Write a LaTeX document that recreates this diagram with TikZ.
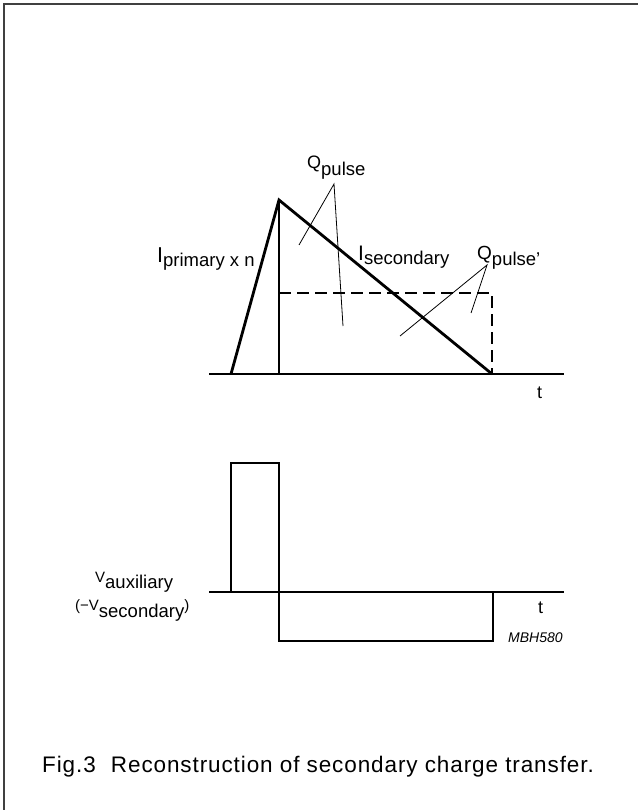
\documentclass[tikz,border=0pt]{standalone}
\usepackage{fontspec}
\setmainfont{Liberation Sans}
\usepackage{tikz}

\newcommand{\subfont}{\fontsize{18.5}{20}\selectfont}
\newcommand{\withsub}[3]{#1\raisebox{#3}{\subfont #2}}

\begin{document}
\begin{tikzpicture}[x=1pt, y=-1pt,
  frame/.style={line width=1.6pt, draw=black!75},
  axisline/.style={line width=1.3pt},
  wave/.style={line width=2.8pt, line join=miter},
  pointer/.style={line width=0.8pt},
  level/.style={line width=1.3pt, dash pattern=on 12pt off 6pt},
  lbl/.style={inner sep=0pt, anchor=base west, font=\fontsize{18}{20}\selectfont}]
\useasboundingbox (0,0) rectangle (638,810);
\draw[frame] (4,810) -- (4,4) -- (638,4);

% current waveforms
\coordinate (t0) at (209,374);
\coordinate (t1) at (564,374);
\coordinate (rise) at (231,374);
\coordinate (peak) at (279,200);
\coordinate (foot) at (279,374);
\coordinate (fall) at (492,374);
\coordinate (lvl0) at (279,293);
\coordinate (lvl1) at (492,293);
\draw[axisline] (t0) -- (t1);
\draw[level] (lvl0) -- (lvl1) -- (fall);
\draw[wave] (rise) -- (peak) -- (fall);
\draw[wave] (peak) -- (foot);

\node[lbl] (qpulse) at (307,169) {\withsub{Q}{pulse}{-7pt}};
\node[lbl, font=\fontsize{21.5}{24}\selectfont] (iprim) at (157,262) {\withsub{I}{primary x n}{-4pt}};
\node[lbl, font=\fontsize{21}{24}\selectfont] (isec) at (358,260) {\withsub{I}{secondary}{-4pt}};
\node[lbl, font=\fontsize{19}{22}\selectfont] (qpulsex) at (477,259) {\withsub{Q}{pulse'}{-6pt}};
\node[lbl] (ttop) at (537,398) {t};

\coordinate (qa) at (334,184);
\coordinate (qb) at (487,265);
\draw[pointer] (299,245) -- (qa) -- (343,326);
\draw[pointer] (400,336) -- (qb) -- (471,313);

% auxiliary voltage
\coordinate (b0) at (209,592);
\coordinate (b1) at (564,592);
\draw[axisline] (b0) -- (b1);
\draw[wave] (231,592) -- (231,463) -- (279,463) -- (279,641) -- (493,641) -- (493,592);

\node[lbl, font=\fontsize{15}{18}\selectfont] (vaux) at (95,582) {\withsub{V}{auxiliary}{-6pt}};
\node[lbl, font=\fontsize{15}{18}\selectfont] (vsec) at (75,610) {\withsub{(−V}{secondary}{-7pt})};
\node[lbl] (tbot) at (538,613) {t};
\node[lbl, font=\fontsize{14}{16}\selectfont\itshape] (code) at (508,642) {MBH580};

\node[lbl, font=\fontsize{22.5}{26}\selectfont\addfontfeature{LetterSpace=4}] (caption) at (42,772)
  {Fig.3\hspace{8pt} Reconstruction of secondary charge transfer.};
\end{tikzpicture}
\end{document}
